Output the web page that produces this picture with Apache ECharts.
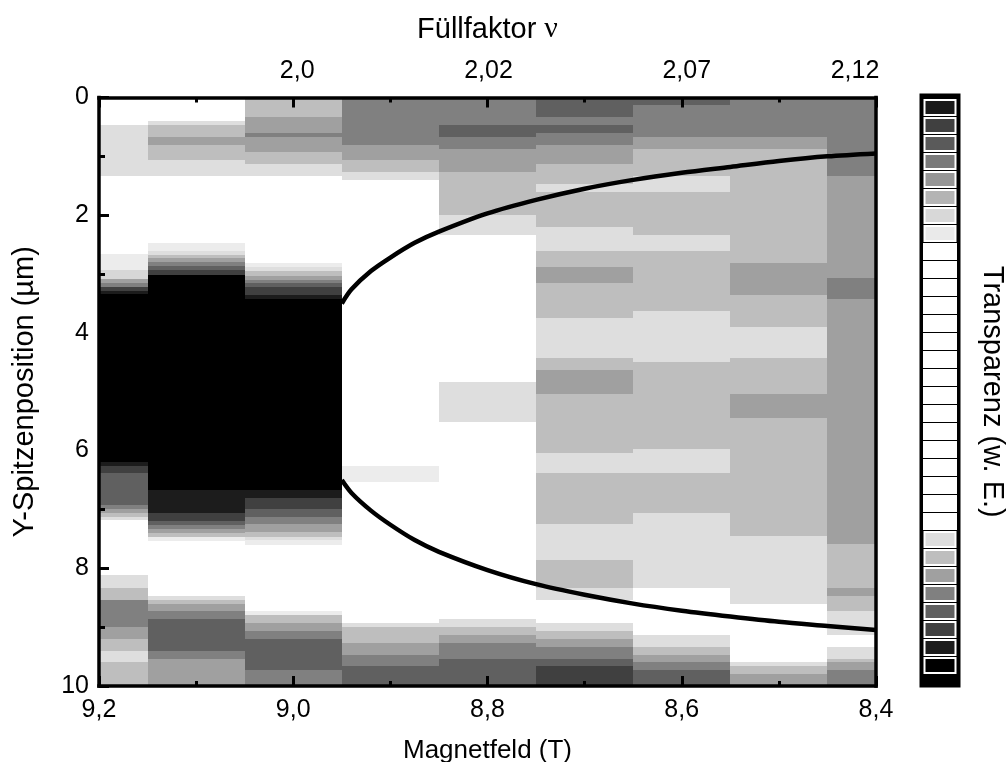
<!DOCTYPE html>
<html>
<head>
<meta charset="utf-8">
<style>html,body{margin:0;padding:0;background:#fff}#c{width:1008px;height:762px}</style>
<script src="https://cdn.jsdelivr.net/npm/echarts@6/dist/echarts.min.js"></script>
</head>
<body>
<div id="c"></div>
<script>
// Magnetic field column edges (T)
const fieldEdges = [9.2, 9.15, 9.05, 8.95, 8.85, 8.75, 8.65, 8.55, 8.45, 8.4];
// Y-scan row size (um per row)
const rowHeight = 10 / 75;
// Grey levels (transparency)
const K=0, G1=28, G2=64, G3=96, G4=128, G5=160, G6=190, G7=222, G8=236;
// Each column: [start row, end row, grey]; rows not listed are white
const col1 = [[3.5,10,G7],[20,22,G8],[22,23.1,215],[23.1,23.6,G5],[23.6,24.1,G4],[24.1,24.6,G2],[24.6,25.1,G1],[25.1,46.4,K],[46.4,46.9,G1],[46.9,47.9,G2],[47.9,51.9,G3],[51.9,52.4,G4],[52.4,52.9,G5],[52.9,53.4,G6],[53.4,53.9,G7],[60.9,62.5,G7],[62.5,64,G6],[64,67.5,G4],[67.5,69,G5],[69,70.5,G6],[70.5,72,G7],[72,75,G6]];
const col2 = [[3,3.5,G7],[3.5,5,G6],[5,6,G5],[6,8,G6],[8,10,G7],[18.6,19.6,G8],[19.6,20.1,G7],[20.1,20.5,G6],[20.5,21,G5],[21,21.5,G4],[21.5,22,G3],[22,22.6,G2],[22.6,50,K],[50,53,G1],[53,54,G2],[54,54.5,G3],[54.5,55,G4],[55,55.5,G5],[55.5,56,G6],[56,56.5,G8],[63.5,64,G7],[64,64.5,G6],[64.5,65.5,G5],[65.5,66.5,G4],[66.5,70.5,G3],[70.5,71.5,G4],[71.5,75,G5]];
const col3 = [[0,2.5,G6],[2.5,4.5,G5],[4.5,5,G4],[5,7,G5],[7,8.5,G6],[8.5,10,G7],[21.1,21.6,G8],[21.6,22.15,G7],[22.15,22.7,G6],[22.7,23.2,G5],[23.2,23.65,G4],[23.65,24.15,G3],[24.15,25.15,G2],[25.15,25.65,G1],[25.65,50,K],[50,51,G1],[51,52.4,G2],[52.4,53.4,G3],[53.4,54.4,G4],[54.4,55.4,G5],[55.4,56,G6],[56,56.4,G7],[56.4,57,G8],[65.5,66,G8],[66,67,G6],[67,68,G5],[68,69,G4],[69,73,G3],[73,75,G4]];
const col4 = [[0,6,G4],[6,8,G5],[8,9.5,G6],[9.5,10.5,G7],[47,49,G8],[67,67.5,G7],[67.5,69.5,G6],[69.5,71,G5],[71,72.5,G4],[72.5,75,G3]];
const col5 = [[0,3.5,G4],[3.5,5,G3],[5,6.5,G4],[6.5,9.5,G5],[9.5,15,G6],[15,17.5,G7],[36.3,41.3,G7],[66.5,67.5,G7],[67.5,68.5,G6],[68.5,69.5,G5],[69.5,71.5,G4],[71.5,75,G3]];
const col6 = [[0,2.5,G3],[2.5,3.5,G4],[3.5,4.5,G3],[4.5,6,G4],[6,8.5,G5],[8.5,11,G6],[11,12,G7],[12,16.5,G6],[16.5,19.6,G7],[19.6,21.6,G6],[21.6,23.6,G5],[23.6,28.1,G6],[28.1,33.2,G7],[33.2,34.7,G6],[34.7,37.8,G5],[37.8,45.3,G6],[45.3,47.8,G7],[47.8,54.4,G6],[54.4,59,G7],[59,62.5,G6],[62.5,64,G7],[67,68,G7],[68,69,G6],[69,70,G5],[70,71.5,G4],[71.5,72.5,G3],[72.5,75,G2]];
const col7 = [[0,1,G3],[1,5,G4],[5,6.5,G5],[6.5,10,G6],[10,12,G7],[12,17.5,G6],[17.5,19.6,G7],[19.6,27.2,G6],[27.2,33.7,G7],[33.7,44.8,G6],[44.8,47.8,G7],[47.8,53,G6],[53,62.5,G7],[68.5,70,G7],[70,71,G6],[71,72,G5],[72,73,G4],[73,75,G3]];
const col8 = [[0,5,G4],[5,6.5,G5],[6.5,21.1,G6],[21.1,25.2,G5],[25.2,29.2,G6],[29.2,33.2,G7],[33.2,37.8,G6],[37.8,40.8,G5],[40.8,55.9,G6],[55.9,64.5,G7],[72,72.5,G7],[72.5,73.5,G6],[73.5,75,G5]];
const col9 = [[0,10,G4],[10,23,G5],[23,25.7,G4],[25.7,56.9,G5],[56.9,62.5,G6],[62.5,63.5,G5],[63.5,65.5,G6],[65.5,68.5,G7],[70,71.5,G7],[71.5,72,G6],[72,73,G5],[73,75,G4]];
const columns = [col1, col2, col3, col4, col5, col6, col7, col8, col9];
// Black curves
const curveField = [8.95,8.94,8.92,8.90,8.875,8.85,8.8,8.75,8.7,8.65,8.6,8.55,8.5,8.45,8.4];
const curveUpper = [3.5,3.26,2.95,2.72,2.47,2.28,1.97,1.74,1.55,1.4,1.28,1.18,1.08,1.0,0.95];
const curveLower = [6.5,6.72,7.02,7.26,7.52,7.72,8.03,8.27,8.45,8.6,8.72,8.82,8.91,8.98,9.05];
// Top axis labels (filling factor)
const fillingLabels = {'9':'{a|2,0}','8.8':'{b|2,02}','8.6':'{c|2,07}','8.4':'{d|2,12}'};
// Transparency scale cells
const scaleGrays = [26,64,90,122,150,180,216,234,255,255,255,255,255,255,255,255,255,255,255,255,255,255,255,255,222,190,160,128,96,64,28,0];

const cells = [];
columns.forEach((col, i) => col.forEach(s => {
  cells.push([fieldEdges[i], fieldEdges[i+1], s[0]*rowHeight, s[1]*rowHeight, s[2]]);
}));
const grey = v => `rgb(${v},${v},${v})`;
const FONT = '"Liberation Sans", Arial, sans-serif';
const topLabel = pad => ({fontFamily:FONT, fontSize:25, color:'#000', padding:pad});
const axisLine = {show:true, onZero:false, lineStyle:{color:'#000', width:3.5, cap:'square'}};
const chart = echarts.init(document.getElementById('c'), null, {renderer:'canvas'});
chart.setOption({
  animation:false,
  backgroundColor:'#fff',
  grid:[
    {left:99, top:97.5, width:777, height:588.5, outerBoundsMode:'none'},
    {left:919.5, top:93.5, width:41, height:594, show:true, backgroundColor:'#000', borderWidth:0, outerBoundsMode:'none'}
  ],
  xAxis:[
    {type:'value', gridIndex:0, position:'bottom', inverse:true, min:8.4, max:9.2, interval:0.2, z:10,
     name:'Magnetfeld (T)', nameLocation:'middle', nameGap:52,
     nameTextStyle:{fontFamily:FONT, fontSize:26, color:'#000'},
     axisLine, splitLine:{show:false},
     axisTick:{show:true, inside:true, length:10, lineStyle:{color:'#000', width:3}},
     minorTick:{show:true, splitNumber:2, length:5, lineStyle:{color:'#000', width:3}},
     axisLabel:{margin:12, fontFamily:FONT, fontSize:25, color:'#000', formatter:v=>v.toFixed(1).replace('.',',')}},
    {type:'value', gridIndex:0, position:'top', inverse:true, min:8.4, max:9.2, interval:0.2, z:10,
     name:'{a|Füllfaktor }{b|ν}', nameLocation:'middle', nameGap:53,
     nameTextStyle:{rich:{a:{fontFamily:FONT, fontSize:29, color:'#000'}, b:{fontFamily:'"Liberation Serif", serif', fontSize:30, color:'#000'}}},
     axisLine, splitLine:{show:false},
     axisTick:{show:true, inside:true, length:10, lineStyle:{color:'#000', width:3}},
     minorTick:{show:true, splitNumber:2, length:5, lineStyle:{color:'#000', width:3}},
     axisLabel:{margin:14, fontFamily:FONT, fontSize:25, color:'#000', showMinLabel:true, showMaxLabel:true,
       rich:{a:topLabel([0,0,0,8]), b:topLabel([0,0,0,2]), c:topLabel([0,0,0,10]), d:topLabel([0,42,0,0])},
       formatter:v=>fillingLabels[String(+v.toFixed(1))]||''}},
    {type:'value', gridIndex:1, min:0, max:1, show:false}
  ],
  yAxis:[
    {type:'value', gridIndex:0, position:'left', inverse:true, min:0, max:10, interval:2, z:10,
     name:'Y-Spitzenposition (µm)', nameLocation:'middle', nameGap:60, nameRotate:90,
     nameTextStyle:{fontFamily:FONT, fontSize:29, color:'#000'},
     axisLine, splitLine:{show:false},
     axisTick:{show:true, inside:true, length:10, lineStyle:{color:'#000', width:3}},
     minorTick:{show:true, splitNumber:2, length:6, lineStyle:{color:'#000', width:3}},
     axisLabel:{margin:10, fontFamily:FONT, fontSize:25, color:'#000'}},
    {type:'value', gridIndex:0, position:'right', inverse:true, min:0, max:10, interval:2, z:10,
     name:'Transparenz (w. E.)', nameLocation:'middle', nameGap:101, nameRotate:-90,
     nameTextStyle:{fontFamily:FONT, fontSize:29, color:'#000'},
     axisLine, splitLine:{show:false}, axisTick:{show:false}, minorTick:{show:false}, axisLabel:{show:false}},
    {type:'value', gridIndex:1, inverse:true, min:-0.3, max:32.7, show:false}
  ],
  series:[
    {type:'custom', xAxisIndex:0, yAxisIndex:0, z:2, silent:true, clip:true,
     data:cells,
     encode:{x:[0,1], y:[2,3]},
     renderItem:(params, api) => {
       const a = api.coord([api.value(0), api.value(2)]);
       const b = api.coord([api.value(1), api.value(3)]);
       const x = Math.round(a[0]), y = Math.round(a[1]);
       return {type:'rect',
         shape:{x, y, width:Math.round(b[0])-x, height:Math.round(b[1])-y},
         style:{fill:grey(api.value(4))}};
     }},
    {type:'line', xAxisIndex:0, yAxisIndex:0, z:5, silent:true, showSymbol:false, smooth:0.3,
     data:curveField.map((x,i)=>[x,curveUpper[i]]), lineStyle:{color:'#000', width:4.5}},
    {type:'line', xAxisIndex:0, yAxisIndex:0, z:5, silent:true, showSymbol:false, smooth:0.3,
     data:curveField.map((x,i)=>[x,curveLower[i]]), lineStyle:{color:'#000', width:4.5}},
    {type:'custom', xAxisIndex:2, yAxisIndex:2, z:2, silent:true,
     data:scaleGrays.map((g,i)=>[i,g]),
     encode:{y:0},
     renderItem:(params, api) => {
       const i = api.value(0), g = api.value(1);
       const a = api.coord([0.09, i]), b = api.coord([0.91, i+1]);
       const x = Math.round(a[0]), y = Math.round(a[1]);
       const w = Math.round(b[0])-x, h = Math.round(b[1])-y-1;
       if (g === 255) return {type:'rect', shape:{x, y, width:w, height:h}, style:{fill:'#fff'}};
       return {type:'rect', shape:{x:x+1.5, y:y+1, width:w-3, height:h-2},
         style:{fill:grey(g), stroke:'#fff', lineWidth:2}};
     }}
  ]
});
</script>
</body>
</html>
